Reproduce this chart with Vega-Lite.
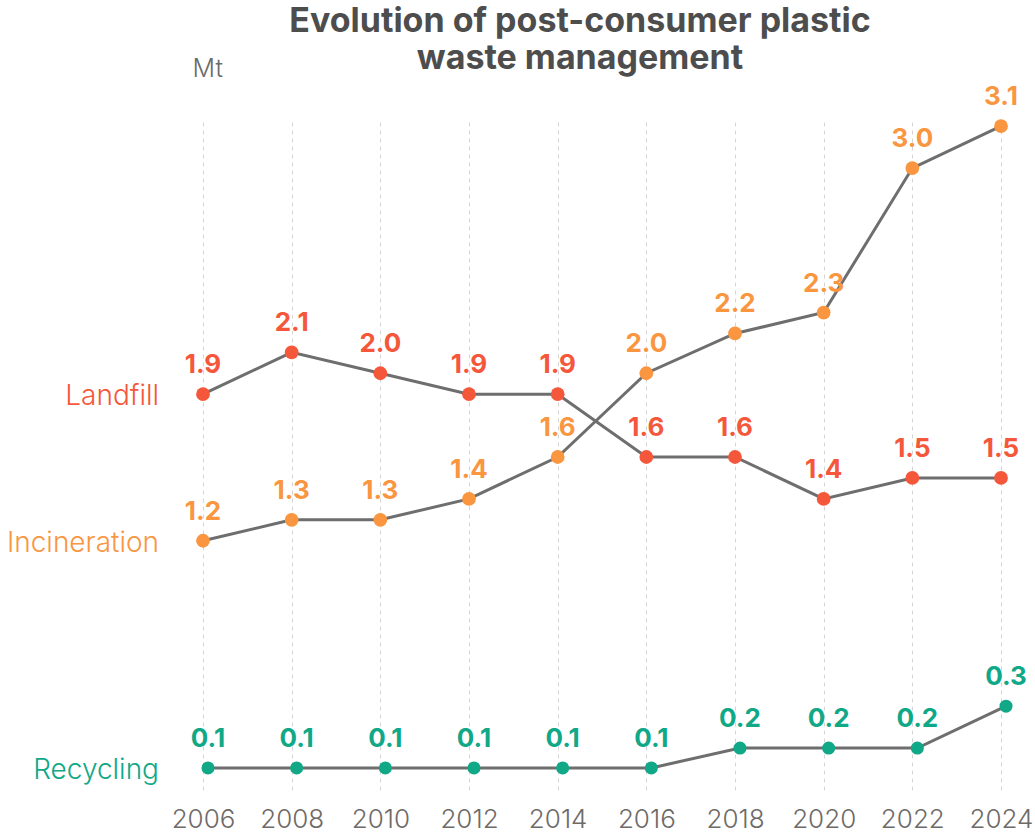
{
  "$schema": "https://vega.github.io/schema/vega-lite/v6.json",
  "width": 798,
  "height": 670,
  "autosize": {"type": "none"},
  "padding": {"left": 203, "top": 122, "right": 34, "bottom": 45},
  "background": "white",
  "title": {
    "text": ["Evolution of post-consumer plastic", "waste management"],
    "font": "Inter",
    "fontSize": 34,
    "fontWeight": 700,
    "color": "#4d4d4d",
    "anchor": "middle",
    "dx": -22,
    "dy": 68,
    "lineHeight": 37,
    "offset": 48
  },
  "config": {
    "view": {"stroke": null},
    "font": "Inter"
  },
  "data": {
    "values": [
      {"year": 2006, "series": "Landfill", "value": 1.9, "label": "1.9"},
      {"year": 2008, "series": "Landfill", "value": 2.1, "label": "2.1"},
      {"year": 2010, "series": "Landfill", "value": 2.0, "label": "2.0"},
      {"year": 2012, "series": "Landfill", "value": 1.9, "label": "1.9"},
      {"year": 2014, "series": "Landfill", "value": 1.9, "label": "1.9"},
      {"year": 2016, "series": "Landfill", "value": 1.6, "label": "1.6"},
      {"year": 2018, "series": "Landfill", "value": 1.6, "label": "1.6"},
      {"year": 2020, "series": "Landfill", "value": 1.4, "label": "1.4"},
      {"year": 2022, "series": "Landfill", "value": 1.5, "label": "1.5"},
      {"year": 2024, "series": "Landfill", "value": 1.5, "label": "1.5"},
      {"year": 2006, "series": "Incineration", "value": 1.2, "label": "1.2"},
      {"year": 2008, "series": "Incineration", "value": 1.3, "label": "1.3"},
      {"year": 2010, "series": "Incineration", "value": 1.3, "label": "1.3"},
      {"year": 2012, "series": "Incineration", "value": 1.4, "label": "1.4"},
      {"year": 2014, "series": "Incineration", "value": 1.6, "label": "1.6"},
      {"year": 2016, "series": "Incineration", "value": 2.0, "label": "2.0"},
      {"year": 2018, "series": "Incineration", "value": 2.19, "label": "2.2"},
      {"year": 2020, "series": "Incineration", "value": 2.29, "label": "2.3"},
      {"year": 2022, "series": "Incineration", "value": 2.98, "label": "3.0"},
      {"year": 2024, "series": "Incineration", "value": 3.18, "label": "3.1"},
      {"year": 2006, "series": "Recycling", "value": 0.115, "label": "0.1"},
      {"year": 2008, "series": "Recycling", "value": 0.115, "label": "0.1"},
      {"year": 2010, "series": "Recycling", "value": 0.115, "label": "0.1"},
      {"year": 2012, "series": "Recycling", "value": 0.115, "label": "0.1"},
      {"year": 2014, "series": "Recycling", "value": 0.115, "label": "0.1"},
      {"year": 2016, "series": "Recycling", "value": 0.115, "label": "0.1"},
      {"year": 2018, "series": "Recycling", "value": 0.21, "label": "0.2"},
      {"year": 2020, "series": "Recycling", "value": 0.21, "label": "0.2"},
      {"year": 2022, "series": "Recycling", "value": 0.21, "label": "0.2"},
      {"year": 2024, "series": "Recycling", "value": 0.41, "label": "0.3"}
    ]
  },
  "encoding": {
    "x": {
      "field": "year",
      "type": "quantitative",
      "scale": {"domain": [2006, 2024], "nice": false, "zero": false},
      "axis": {
        "title": null,
        "values": [2006, 2008, 2010, 2012, 2014, 2016, 2018, 2020, 2022, 2024],
        "format": "d",
        "domain": false,
        "ticks": false,
        "grid": true,
        "gridColor": "#d4d4d4",
        "gridDash": [4, 4],
        "gridWidth": 1,
        "labelFont": "Inter",
        "labelFontSize": 26,
        "labelFontWeight": 300,
        "labelColor": "#6e6a68",
        "labelPadding": 14,
        "labelFlush": false,
        "labelOverlap": false
      }
    },
    "y": {
      "field": "value",
      "type": "quantitative",
      "scale": {"domain": [0, 3.2], "nice": false},
      "axis": {
        "title": "Mt",
        "titleAngle": 0,
        "titleAlign": "left",
        "titleBaseline": "alphabetic",
        "titleX": -11,
        "titleY": -46,
        "titleFont": "Inter",
        "titleFontSize": 25,
        "titleFontWeight": 300,
        "titleColor": "#6b6b6b",
        "labels": false,
        "ticks": false,
        "domain": false,
        "grid": false
      }
    },
    "color": {
      "field": "series",
      "type": "nominal",
      "scale": {
        "domain": ["Landfill", "Incineration", "Recycling"],
        "range": ["#F5573B", "#F9963F", "#10A887"]
      },
      "legend": null
    }
  },
  "layer": [
    {
      "transform": [{"filter": "datum.series !== 'Recycling'"}],
      "mark": {"type": "line", "color": "#6e6e6e", "strokeWidth": 3},
      "encoding": {"detail": {"field": "series"}, "color": {"value": "#6e6e6e"}}
    },
    {
      "transform": [{"filter": "datum.series === 'Recycling'"}],
      "mark": {"type": "line", "color": "#6e6e6e", "strokeWidth": 3, "xOffset": 5},
      "encoding": {"detail": {"field": "series"}, "color": {"value": "#6e6e6e"}}
    },
    {
      "transform": [{"filter": "datum.series !== 'Recycling'"}],
      "mark": {"type": "point", "filled": true, "opacity": 1, "size": 190}
    },
    {
      "transform": [{"filter": "datum.series === 'Recycling'"}],
      "mark": {"type": "point", "filled": true, "opacity": 1, "size": 170, "xOffset": 5}
    },
    {
      "transform": [{"filter": "datum.series !== 'Recycling'"}],
      "mark": {"type": "text", "font": "Inter", "fontSize": 26, "fontWeight": 700, "baseline": "alphabetic", "align": "center", "dy": -21},
      "encoding": {"text": {"field": "label"}}
    },
    {
      "transform": [{"filter": "datum.series === 'Recycling'"}],
      "mark": {"type": "text", "font": "Inter", "fontSize": 26, "fontWeight": 700, "baseline": "alphabetic", "align": "center", "dy": -21, "xOffset": 5},
      "encoding": {"text": {"field": "label"}}
    },
    {
      "transform": [{"filter": "datum.year === 2006"}],
      "mark": {"type": "text", "font": "Inter", "fontSize": 28, "fontWeight": 300, "baseline": "alphabetic", "align": "right", "dx": -44, "dy": 11},
      "encoding": {"text": {"field": "series"}}
    }
  ]
}
